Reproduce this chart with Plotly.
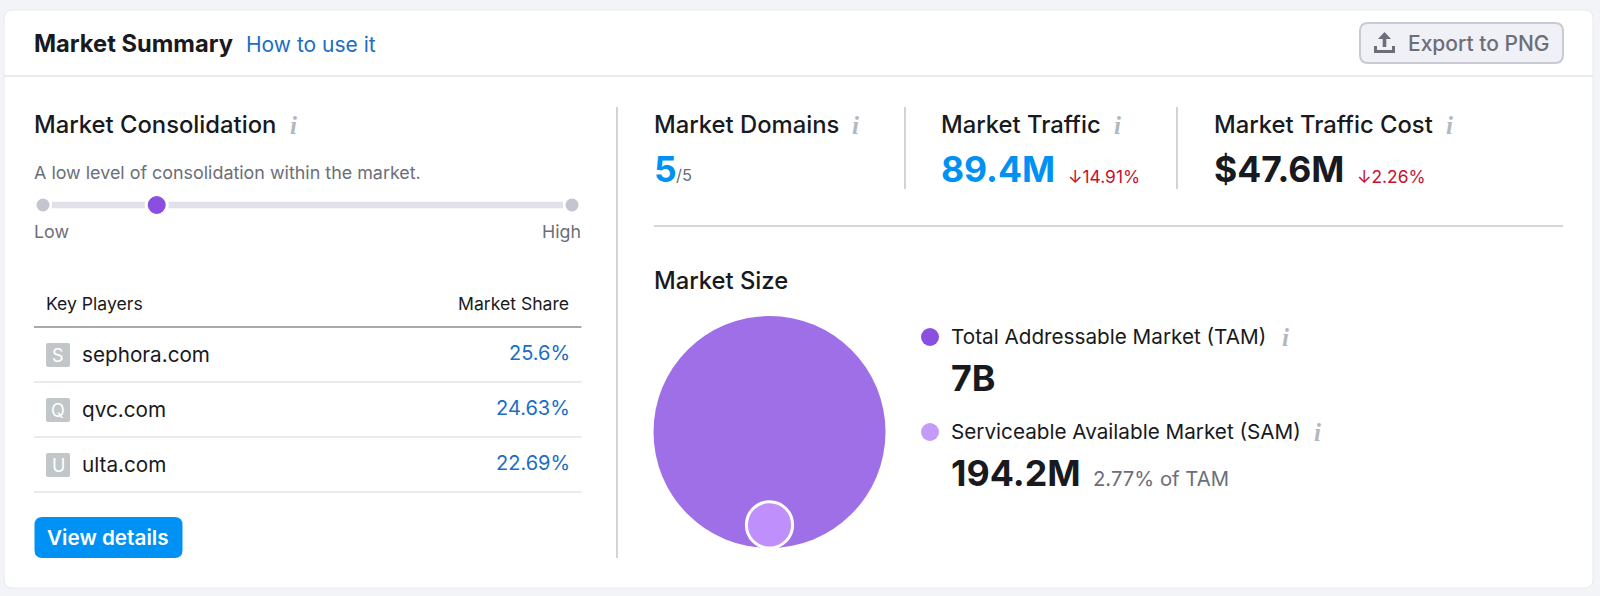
import plotly.graph_objects as go

# chart values
players = ["sephora.com", "qvc.com", "ulta.com"]
player_letters = ["S", "Q", "U"]
player_share = ["25.6%", "24.63%", "22.69%"]

metric_names = ["Market Domains", "Market Traffic", "Market Traffic Cost"]
metric_values = ["5", "89.4M", "$47.6M"]
metric_deltas = ["", "↓14.91%", "↓2.26%"]

market_names = ["Total Addressable Market (TAM)", "Serviceable Available Market (SAM)"]
market_millions = [7000, 194.2]
market_labels = ["7B", "194.2M"]

consolidation_level = 0.215

# colours
INK = "#181a20"
GREY = "#6c6e79"
ICON = "#b4b7bd"
LINK = "#1a6ec4"
BLUE = "#0091f5"
RED = "#c8102e"
PURPLE = "#9f6fe8"
PURPLE_DOT = "#8a4fe0"
LILAC = "#bf90fb"
LILAC_DOT = "#c39bf9"
FONT = "Inter"

annotations = []
shapes = []


def label(x, y, text, size=18, color=INK, anchor="left", weight=400, family=FONT):
    # annotation boxes carry a little padding, pull the text back to its edge
    shift = {"left": -2, "right": 1, "center": 0}[anchor]
    annotations.append(dict(
        x=x, y=y, text=text, showarrow=False, xanchor=anchor, yanchor="middle",
        xshift=shift, borderpad=0,
        font=dict(family=family, size=size, color=color, weight=weight),
    ))


def info(x, y):
    annotations.append(dict(
        x=x, y=y, text="<b><i>i</i></b>", showarrow=False, xanchor="center", yanchor="middle",
        font=dict(family="Liberation Serif", size=25, color=ICON),
    ))


def line(x0, y0, x1, y1, color, width=1.5):
    shapes.append(dict(type="line", x0=x0, y0=y0, x1=x1, y1=y1, layer="below",
                       line=dict(color=color, width=width)))


def round_box(x0, y0, x1, y1, r, fill, border=None, width=0):
    path = (f"M{x0+r},{y0} L{x1-r},{y0} Q{x1},{y0} {x1},{y0+r} L{x1},{y1-r} Q{x1},{y1} {x1-r},{y1} "
            f"L{x0+r},{y1} Q{x0},{y1} {x0},{y1-r} L{x0},{y0+r} Q{x0},{y0} {x0+r},{y0} Z")
    shapes.append(dict(type="path", path=path, fillcolor=fill, layer="below",
                       line=dict(color=border or fill, width=width)))


# card and header
round_box(4, 10, 1593, 588, 9, "white", "#e9eaef", 1)
line(4, 76, 1593, 76, "#e2e3e8")
label(34.5, 43, "Market Summary", 23.7, INK, weight=700)
label(247, 44, "How to use it", 21, LINK)

round_box(1360, 23, 1563, 63, 8, "#f0f1f6", "#c9cad3", 2)
label(1409, 43, "Export to PNG", 21, GREY, weight=500)
shapes.append(dict(type="path", layer="below", fillcolor=GREY, line=dict(width=0),
                   path="M1384.5,32 L1391,39 L1386.3,39 L1386.3,47 L1382.7,47 L1382.7,39 L1378,39 Z"))
shapes.append(dict(type="path", layer="below", fillcolor=GREY, line=dict(width=0),
                   path="M1374,46 L1377,46 L1377,50 L1392,50 L1392,46 L1395,46 L1395,53 L1374,53 Z"))

# left panel
line(617, 107, 617, 558, "#c4c5cb")
label(35, 124, "Market Consolidation", 23.8, INK, weight=500)
info(293, 125)
label(35, 172, "A low level of consolidation within the market.", 17.9, GREY)

line(52, 205, 563, 205, "#e0e1e9", 6.5)
label(35, 231, "Low", 17.8, GREY)
label(581, 231, "High", 17.8, GREY, anchor="right")

label(47, 303, "Key Players", 17.6, INK)
label(569, 303, "Market Share", 17.6, INK, anchor="right")
line(34, 327, 581.5, 327, "#a8a9ae", 2)

row_y = [355, 410, 465]
for name, letter, share, y in zip(players, player_letters, player_share, row_y):
    round_box(46, y - 12, 70, y + 12, 2, "#c1c7c9")
    label(58, y, letter, 18, "white", anchor="center")
    label(83, y - 1, name, 20.7, INK)
    label(570, y - 2, share, 20, LINK, anchor="right")
    line(34, y + 27, 581.5, y + 27, "#e4e5ea", 1.5)

round_box(34.5, 517, 182.5, 558, 8, BLUE)
label(108, 537, "View details", 20.7, "white", anchor="center", weight=600)

# metric row
metric_x = [655, 942, 1215]
info_x = [855, 1117, 1449]
delta_x = [0, 1069, 1358]
value_colors = [BLUE, BLUE, INK]
for name, value, delta, x, ix, dx, col in zip(metric_names, metric_values, metric_deltas,
                                             metric_x, info_x, delta_x, value_colors):
    label(x, 124, name, 23.8, INK, weight=500)
    info(ix, 125)
    label(x, 169, value, 35.5, col, weight=700)
    if delta:
        label(dx, 176, delta, 17.4, RED)
label(677, 175, "/5", 16.5, GREY)
line(905, 107, 905, 189, "#c4c5cb")
line(1177, 107, 1177, 189, "#c4c5cb")
line(654, 226, 1563, 226, "#c8c9ce")

# market size
label(655, 280, "Market Size", 23.8, INK, weight=500)
legend_y = [337, 432]
value_y = [378, 473]
legend_info_x = [1285, 1317]
for name, text, ly, vy, ix in zip(market_names, market_labels, legend_y, value_y, legend_info_x):
    label(952, ly - 1, name, 20.7, INK)
    info(ix, ly)
    label(952, vy, text, 35.8, INK, weight=700)
label(1094, 478, f"{market_millions[1] / market_millions[0] * 100:.2f}% of TAM", 20.3, GREY)

fig = go.Figure()

# market circles, both sitting on the same bottom edge
BIG = 232
BOTTOM = 548
diam = [BIG * (v / market_millions[0]) ** 0.45 for v in market_millions]
fig.add_trace(go.Scatter(
    x=[769.5, 769.5], y=[BOTTOM - d / 2 for d in diam], mode="markers", hoverinfo="skip",
    marker=dict(size=diam, color=[PURPLE, LILAC], opacity=1,
                line=dict(color=["rgba(0,0,0,0)", "white"], width=[0, 3])),
))
# legend dots
fig.add_trace(go.Scatter(
    x=[930, 930], y=legend_y, mode="markers", hoverinfo="skip",
    marker=dict(size=18, color=[PURPLE_DOT, LILAC_DOT], line=dict(width=0)),
))
# slider ends and position
fig.add_trace(go.Scatter(
    x=[43, 572], y=[205, 205], mode="markers", hoverinfo="skip",
    marker=dict(size=13, color="#c3c5cf", line=dict(width=0)),
))
fig.add_trace(go.Scatter(
    x=[43 + consolidation_level * (572 - 43)], y=[205], mode="markers", hoverinfo="skip",
    marker=dict(size=21, color=PURPLE_DOT, line=dict(color="white", width=3)),
))

fig.update_layout(
    width=1600, height=596,
    margin=dict(l=0, r=0, t=0, b=0),
    paper_bgcolor="#f3f4f8", plot_bgcolor="rgba(0,0,0,0)",
    showlegend=False,
    xaxis=dict(range=[0, 1600], visible=False, fixedrange=True),
    yaxis=dict(range=[596, 0], visible=False, fixedrange=True),
    shapes=shapes,
    annotations=annotations,
)

fig.write_html("out.html", config={"displayModeBar": False},
               post_script="document.body.style.margin='0';")
